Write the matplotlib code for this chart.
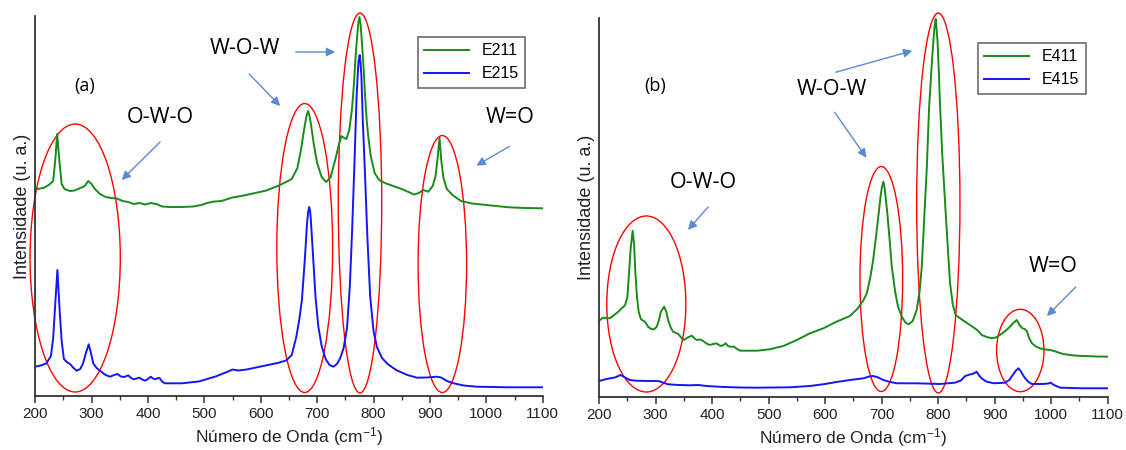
import matplotlib
matplotlib.use("Agg")
from matplotlib import pyplot as plt
from matplotlib.patches import Ellipse
from matplotlib.ticker import MultipleLocator

plt.rcParams['font.family'] = ['Liberation Sans', 'DejaVu Sans']
plt.rcParams['mathtext.fontset'] = 'custom'
plt.rcParams['mathtext.rm'] = 'Liberation Sans'
plt.rcParams['mathtext.default'] = 'regular'

# painel (a)
x_e211 = [200, 215, 224, 232, 236, 239, 243, 247, 252, 262, 270, 280, 288, 294, 300, 306, 315, 325, 335,
          345, 355, 365, 375, 385, 395, 405, 415, 425, 440, 460, 480, 495, 505, 515, 530, 550, 570, 590,
          610, 630, 645, 655, 665, 672, 675, 678, 681, 684, 686.5, 689, 694, 700, 708, 716, 724, 732, 738,
          743, 748, 752, 757, 762, 765, 767, 769, 771, 773, 775, 777, 779, 781, 783, 785, 788, 791, 795,
          802, 810, 820, 835, 850, 860, 872, 880, 888, 897, 905, 910, 914, 917, 920, 924, 930, 940, 955,
          975, 1000, 1040, 1070, 1100]
y_e211 = [206.7, 208, 211, 215, 238, 262, 235, 212, 207, 205, 205.5, 208, 210, 215, 212, 207, 202, 199, 198,
          197.5, 195, 194, 192, 193, 191.5, 193, 192, 189.5, 189, 189, 189.5, 191, 193, 194.3, 195, 198.5,
          200.5, 203, 205.5, 210, 214, 217, 228, 248, 260, 270, 280, 285, 280, 272, 252, 233, 219, 214,
          219, 236, 250, 260, 258, 257, 266, 288, 310, 329, 346, 360, 373, 379, 372, 357, 340, 322, 300,
          275, 258, 240, 223, 216, 213, 210, 207, 204.5, 201.5, 203, 206, 204.3, 210, 220, 240, 258.5, 236,
          218, 207, 201, 195, 192.5, 191, 188.7, 188, 187.7]

x_e215 = [200, 210, 220, 228, 232, 236, 239.5, 243, 247, 251, 256, 262, 268, 274, 280, 285, 290, 295, 299,
          303, 309, 315, 325, 333, 340, 346, 352, 358, 365, 370, 375, 380, 385, 390, 395, 400, 405, 409,
          413, 418, 421, 425, 430, 460, 490, 520, 540, 550, 560, 575, 600, 630, 645, 655, 663, 668, 673,
          678, 682, 684, 686, 687.5, 689, 693, 697, 702, 708, 715, 722, 729, 735, 741, 747, 753, 758, 762,
          766, 768, 770, 772, 773.5, 775.5, 777, 778.5, 781, 785, 789, 794, 800, 806, 815, 825, 840, 860,
          877, 895, 912, 920, 930, 942, 960, 983, 1040, 1100]
y_e215 = [29.3, 30.5, 32.7, 40, 58, 95, 126, 90, 55, 37, 34, 32, 28, 25.3, 27, 32.7, 43, 51.7, 43, 32.7,
          28, 25.3, 21, 19.3, 21, 22, 19.5, 19, 20.7, 18, 16.7, 17.5, 18.3, 16.5, 15.3, 17, 19.3, 17.5,
          16.7, 18, 17.7, 14.5, 12.7, 12.7, 14.5, 19.5, 24, 26.5, 25.5, 26.5, 29.5, 33, 35.5, 41, 59, 75,
          96, 135, 172, 184, 189, 185, 175, 138, 100, 70, 50, 37, 31, 29.3, 32, 38, 48, 68, 110, 165, 230,
          265, 300, 322, 335, 341, 333, 320, 275, 220, 160, 100, 65, 49, 38, 32, 26, 21, 18.3, 18.5, 19.3,
          18.5, 15, 12.7, 10.5, 9.3, 8.7, 8.7]

# painel (b)
x_e411 = [200, 207, 219, 234, 246, 250, 253, 256, 259.3, 262, 264, 267, 270, 274, 281, 287, 293, 298, 302,
          306, 309, 315, 319, 322, 327, 331, 340, 346, 350, 357, 364, 370, 373, 379, 384, 390, 396, 402,
          407, 412, 415, 420, 424, 428, 432, 439, 444, 450, 480, 502, 526, 550, 573, 597, 620, 644, 658,
          668, 674, 680, 685, 690, 694, 698, 700.5, 703, 705, 707, 710, 714, 718, 724, 729, 736, 742, 748,
          755, 762, 767, 771, 775, 780, 784, 789, 792, 794, 795.6, 797, 799, 801, 803, 807, 812, 817, 821,
          826, 831, 838, 845, 855, 865, 871, 877, 886, 895, 902, 909, 918, 927, 933, 939, 944, 949, 953,
          957, 961, 966, 973, 980, 990, 998, 1005, 1021, 1040, 1057, 1080, 1100]
y_e411 = [76.3, 79.3, 78.7, 85.3, 92, 100, 125, 150, 166.3, 152, 125, 100, 85, 77.7, 75.3, 70, 67.7, 68,
          70.3, 77, 85, 90.3, 85, 77, 69, 65.3, 63, 59, 57, 59.5, 61.3, 58, 57, 57.5, 56, 53.5, 52, 53,
          53.7, 52, 51, 52, 53.7, 51, 50.3, 50.3, 48, 46.3, 46.3, 47.7, 51, 57, 63.7, 68.7, 75.3, 81, 88.7,
          97, 104, 120, 137, 160, 180, 200, 210, 215.3, 210, 200, 184, 158, 130, 105, 90.3, 80, 74.5, 72.7,
          76, 87, 105, 130, 175, 230, 290, 335, 360, 372, 378, 370, 355, 328, 297, 245, 197, 150, 114, 92,
          82, 79, 76.3, 72.5, 68.7, 66, 62, 60, 58.7, 59.5, 62, 65.5, 70.3, 74, 77, 72, 68.7, 68, 66, 59,
          53.7, 50.5, 48.7, 47.5, 47, 46, 43, 41.5, 41, 40.5, 40.3]

x_e415 = [200, 210, 219, 228, 238, 246, 254, 265, 284, 300, 307, 315, 322, 340, 361, 375, 390, 420, 450,
          479, 538, 573, 600, 620, 644, 668, 678, 684, 692, 703, 715, 727, 762, 803, 830, 840, 848, 856,
          863, 868, 872, 877, 885, 898, 918, 926, 932, 937, 942, 946, 950, 954, 960, 966, 986, 995, 999,
          1005, 1016, 1057, 1100]
y_e415 = [16, 17.5, 18.7, 19.5, 22, 19.5, 17, 16.3, 16, 16, 15.7, 14, 12.7, 12, 11.7, 12, 11, 10, 9.5, 9.3,
          9.7, 11, 13, 15, 17, 18.7, 20.5, 21, 20, 17, 15, 13.7, 13.7, 13, 14.3, 16.5, 21, 22.5, 23.5,
          25.3, 22, 18.5, 15.5, 13.7, 14.3, 17, 22, 26, 28.7, 26, 22, 18.7, 15, 13, 13, 13.5, 14.3, 12,
          9.3, 8.7, 8.7]

# elipses: centro x, centro y, largura, altura
elip_a = [(271, 138, 160, 268), (678, 148, 99, 289), (776, 193, 77, 380), (922, 132, 86, 257)]
elip_b = [(283.5, 93, 140, 176), (699.4, 118, 75.6, 225), (800.3, 194, 76.6, 380), (945.4, 46.5, 83.8, 82.4)]

verde = '#1a8a1a'
azul = '#1515f5'
seta = '#5a8bd0'
rotulo = ['Open Sans', 'DejaVu Sans']

fig = plt.figure(figsize=(11.26, 4.5), dpi=100)
ax1 = fig.add_axes([0.0312, 0.12, 0.4508, 0.8444])
ax2 = fig.add_axes([0.5321, 0.1178, 0.4516, 0.8422])


def estilo(ax, ytop):
    ax.set_xlim(200, 1100)
    ax.set_ylim(0, ytop)
    ax.spines['top'].set_visible(False)
    ax.spines['right'].set_visible(False)
    for s in ['left', 'bottom']:
        ax.spines[s].set_linewidth(1.3)
        ax.spines[s].set_color('#333333')
    ax.set_yticks([])
    ax.xaxis.set_major_locator(MultipleLocator(100))
    ax.xaxis.set_minor_locator(MultipleLocator(50))
    ax.tick_params(axis='x', which='major', length=5, width=1.1, labelsize=11, color='#333333',
                   labelcolor='#222222', pad=3)
    ax.tick_params(axis='x', which='minor', length=3, width=1.0, color='#333333')
    ax.set_xlabel('Número de Onda (cm$^{-1}$)', fontsize=12.5, labelpad=3, color='#222222')
    ax.set_ylabel('Intensidade (u. a.)', fontsize=13, labelpad=3, color='#222222')


def flecha(ax, xy, xytext):
    ax.annotate('', xy=xy, xytext=xytext,
                arrowprops=dict(arrowstyle='-|>', color=seta, lw=1.0, mutation_scale=13))


# (a)
ax1.plot(x_e211, y_e211, color=verde, lw=1.4, label='E211')
ax1.plot(x_e215, y_e215, color=azul, lw=1.4, label='E215')
estilo(ax1, 380)
for cx, cy, w, h in elip_a:
    ax1.add_patch(Ellipse((cx, cy), w, h, fill=False, edgecolor='red', lw=1.0, clip_on=False))
ax1.text(288, 310, '(a)', fontsize=13, ha='center', va='center', family=rotulo)
ax1.text(422, 279, 'O-W-O', fontsize=15.5, ha='center', va='center', family=rotulo)
ax1.text(572, 348, 'W-O-W', fontsize=15.5, ha='center', va='center', family=rotulo)
ax1.text(1042, 279, 'W=O', fontsize=15.5, ha='center', va='center', family=rotulo)
flecha(ax1, (350, 214), (425, 256))
flecha(ax1, (737, 344), (657, 344))
flecha(ax1, (638, 288), (576, 324))
flecha(ax1, (978, 229), (1045, 251))
leg = ax1.legend(loc='upper left', bbox_to_anchor=(0.754, 0.945), borderaxespad=0, fancybox=False,
                 fontsize=11.5, handlelength=2.8, edgecolor='#777777', framealpha=1)
leg.get_frame().set_linewidth(1.3)

# (b)
ax2.plot(x_e411, y_e411, color=verde, lw=1.4, label='E411')
ax2.plot(x_e415, y_e415, color=azul, lw=1.4, label='E415')
estilo(ax2, 379)
for cx, cy, w, h in elip_b:
    ax2.add_patch(Ellipse((cx, cy), w, h, fill=False, edgecolor='red', lw=1.0, clip_on=False))
ax2.text(299, 311, '(b)', fontsize=13, ha='center', va='center', family=rotulo)
ax2.text(384, 214, 'O-W-O', fontsize=15.5, ha='center', va='center', family=rotulo)
ax2.text(612, 307, 'W-O-W', fontsize=15.5, ha='center', va='center', family=rotulo)
ax2.text(1003, 130, 'W=O', fontsize=15.5, ha='center', va='center', family=rotulo)
flecha(ax2, (354, 165), (396, 192))
flecha(ax2, (676, 237), (614, 287))
flecha(ax2, (759, 347), (614, 324))
flecha(ax2, (989, 79), (1047, 112))
leg = ax2.legend(loc='upper left', bbox_to_anchor=(0.745, 0.934), borderaxespad=0, fancybox=False,
                 fontsize=11.5, handlelength=2.8, edgecolor='#777777', framealpha=1)
leg.get_frame().set_linewidth(1.3)

fig.savefig('out.png', dpi=100)
